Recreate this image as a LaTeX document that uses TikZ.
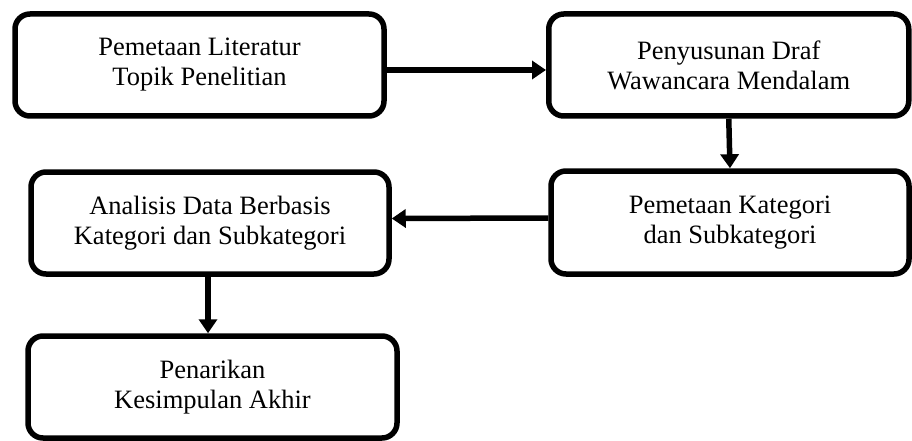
\documentclass[tikz,border=0pt]{standalone}
\usepackage{fontspec}
\setmainfont{Liberation Serif}
\usepackage{tikz}
\usetikzlibrary{arrows.meta}

\begin{document}
\begin{tikzpicture}[x=1pt, y=-1pt,
    box/.style={draw, line width=5.5pt, rounded corners=15pt, align=center,
      inner sep=0pt, font=\fontsize{26.5}{30}\selectfont},
    flow/.style={line width=5.5pt, -{Triangle[length=14pt,width=18pt]}}]
  \useasboundingbox (0,0) rectangle (912,441);

  \node[box, minimum width=369pt, minimum height=102pt] (literatur) at (199.5,65)
    {Pemetaan Literatur\\Topik Penelitian};
  \node[box, minimum width=360pt, minimum height=102pt] (draf) at (728.75,65)
    {Penyusunan Draf\\Wawancara Mendalam};
  \node[box, minimum width=358pt, minimum height=103pt] (kategori) at (730,222.5)
    {Pemetaan Kategori\\dan Subkategori};
  \node[box, minimum width=358pt, minimum height=102pt] (analisis) at (210,223)
    {Analisis Data Berbasis\\Kategori dan Subkategori};
  \node[box, minimum width=369pt, minimum height=102pt] (simpulan) at (212.5,387)
    {Penarikan\\Kesimpulan Akhir};

  \draw[flow] ([yshift=-5pt]literatur.east) -- ([yshift=-5pt]draf.west);
  \draw[flow] (draf.south) -- (kategori.north);
  \draw[flow] ([yshift=4.5pt]kategori.west) -- ([yshift=4.5pt]analisis.east);
  \draw[flow] ([xshift=-2pt]analisis.south) -- ([xshift=-2pt]analisis.south |- simpulan.north);
\end{tikzpicture}
\end{document}
